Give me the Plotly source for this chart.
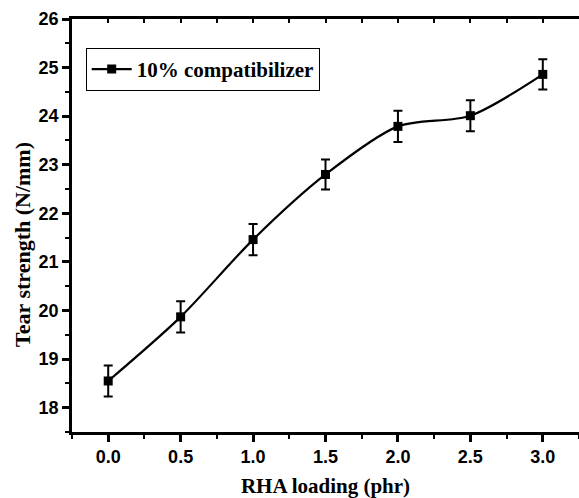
import plotly.graph_objects as go

rha = [0.0, 0.5, 1.0, 1.5, 2.0, 2.5, 3.0]
tear = [18.55, 19.87, 21.46, 22.80, 23.79, 24.01, 24.86]
err = [0.32, 0.32, 0.32, 0.31, 0.32, 0.32, 0.31]
series_name = "10% compatibilizer"
x_title = "RHA loading (phr)"
y_title = "Tear strength (N/mm)"

xr = [-0.25, 3.25]
yr = [17.5, 26]

fig = go.Figure()
fig.add_trace(go.Scatter(
    x=rha, y=tear, mode="lines+markers", name=series_name,
    line=dict(color="black", width=2.2, shape="spline", smoothing=0.8),
    marker=dict(symbol="square", size=9, color="black"),
    error_y=dict(type="data", array=err, visible=True, color="black", thickness=2, width=4.5),
))
# invisible trace to carry the top axis with inward ticks
fig.add_trace(go.Scatter(x=[rha[0]], y=[tear[0]], xaxis="x2", mode="markers",
                         marker=dict(opacity=0), showlegend=False, hoverinfo="skip"))

tickfont = dict(family="Liberation Sans", size=18, color="black", weight="bold")

fig.update_layout(
    width=579, height=498,
    margin=dict(l=72, r=0, t=19, b=66),
    plot_bgcolor="white", paper_bgcolor="white",
    showlegend=True,
    legend=dict(x=0.027, y=0.93, xanchor="left", yanchor="top",
                bordercolor="black", borderwidth=1, bgcolor="white",
                font=dict(family="Liberation Serif", size=21, color="black", weight="bold"),
                itemwidth=40, tracegroupgap=0),
    xaxis=dict(range=xr, tickmode="array", tickvals=rha, ticktext=[f"{v:.1f}" for v in rha],
               showgrid=False, zeroline=False, showline=True, linecolor="black", linewidth=2.5,
               ticks="outside", ticklen=7, tickwidth=2.5, tickcolor="black", tickfont=tickfont,
               minor=dict(tickmode="array", tickvals=[-0.25, 0.25, 0.75, 1.25, 1.75, 2.25, 2.75, 3.25],
                          ticks="outside", ticklen=4, tickwidth=2, tickcolor="black", showgrid=False),
               title=dict(text=x_title,
                          font=dict(family="Liberation Serif", size=21, color="black", weight="bold"),
                          standoff=14)),
    xaxis2=dict(range=xr, overlaying="x", side="top", showgrid=False, zeroline=False,
                showline=True, linecolor="black", linewidth=2.5, showticklabels=False,
                ticks="inside", ticklen=4, tickwidth=1.5, tickcolor="black",
                tickmode="linear", tick0=-0.25, dtick=0.25),
    yaxis=dict(range=yr, tickmode="linear", tick0=18, dtick=1,
               showgrid=False, zeroline=False, showline=True, linecolor="black", linewidth=2.5,
               ticks="outside", ticklen=7, tickwidth=2.5, tickcolor="black", tickfont=tickfont,
               minor=dict(tickmode="linear", tick0=17.5, dtick=1, ticks="outside", ticklen=4,
                          tickwidth=2, tickcolor="black", showgrid=False)),
    annotations=[dict(text=y_title, xref="paper", yref="paper", x=-0.099, y=0.455,
                      xanchor="center", yanchor="middle", textangle=-90, showarrow=False,
                      font=dict(family="Liberation Serif", size=22, color="black", weight="bold"))],
)

fig.write_html("out.html")
